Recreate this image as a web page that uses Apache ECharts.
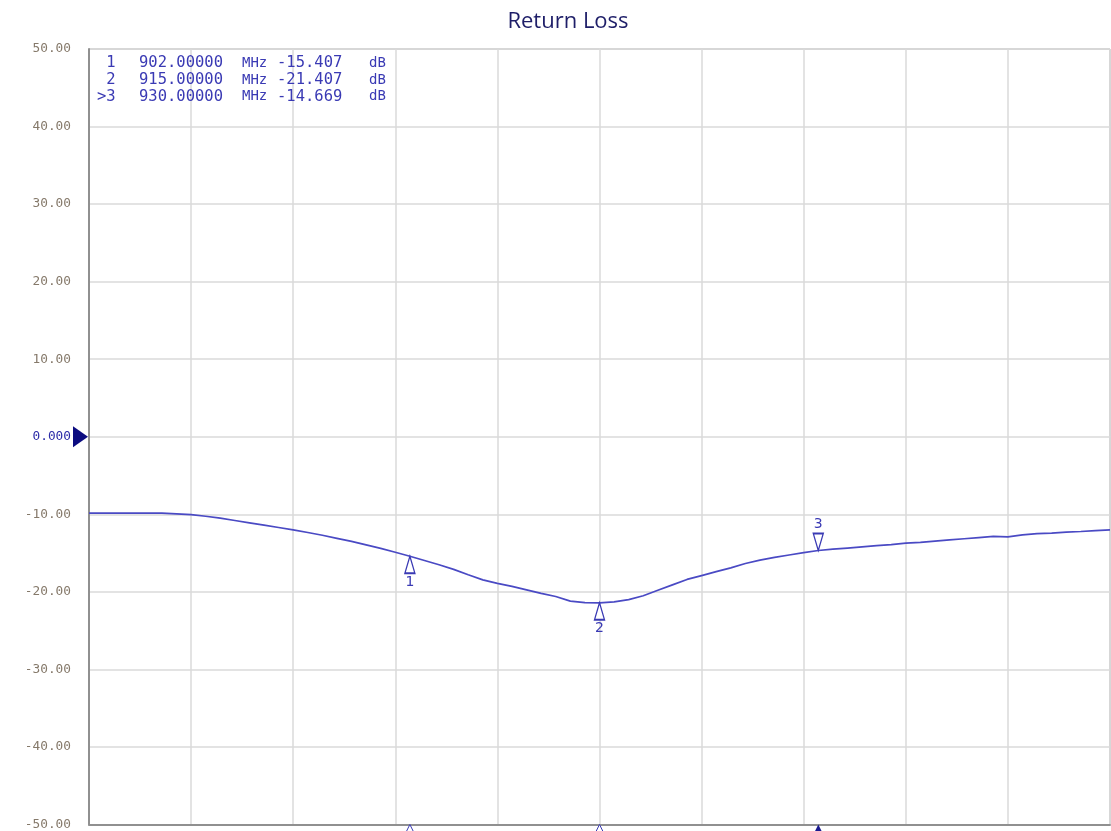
<!DOCTYPE html>
<html>
<head>
<meta charset="utf-8">
<script src="https://cdn.jsdelivr.net/npm/echarts@6/dist/echarts.min.js"></script>
<style>html,body{margin:0;padding:0;background:#fff;}#c{width:1111px;height:831px;}</style>
</head>
<body>
<div id="c"></div>
<script>
// Frequency (MHz) and return loss (dB)
const freqs = [880,881,882,883,884,885,886,887,888,889,890,891,892,893,894,895,896,897,898,899,
  900,901,902,903,904,905,906,907,908,909,910,911,912,913,914,915,916,917,918,919,
  920,921,922,923,924,925,926,927,928,929,930,931,932,933,934,935,936,937,938,939,
  940,941,942,943,944,945,946,947,948,949,950];
const returnLoss = [-9.85,-9.85,-9.85,-9.85,-9.85,-9.86,-9.95,-10.05,-10.25,-10.5,
  -10.8,-11.1,-11.4,-11.7,-12.0,-12.35,-12.7,-13.1,-13.5,-13.95,
  -14.4,-14.9,-15.41,-15.95,-16.5,-17.1,-17.8,-18.45,-18.9,-19.3,
  -19.75,-20.2,-20.6,-21.2,-21.4,-21.41,-21.3,-21.0,-20.5,-19.8,
  -19.1,-18.4,-17.9,-17.4,-16.9,-16.35,-15.9,-15.55,-15.25,-14.95,
  -14.67,-14.5,-14.35,-14.2,-14.05,-13.9,-13.72,-13.62,-13.45,-13.3,
  -13.15,-13.0,-12.85,-12.9,-12.65,-12.5,-12.42,-12.3,-12.22,-12.1,-12.0];
// Markers
const markerIds = ['1','2','3'];
const markerFreq = [902, 915, 930];
const markerVal = [-15.407, -21.407, -14.669];
const activeMarker = 2;
// Axes
const xMin = 880, xMax = 950, xStep = 7;
const yMin = -50, yMax = 50, yStep = 10;
const refLevel = 0;

const blue = '#3a3ab4';
const lineColor = '#4a4ac4';

const upTri = 'path://M5,0 L10,17 L0,17 Z';
const downTri = 'path://M0,0 L10,0 L5,17 Z';

const markPts = [];
markerFreq.forEach((f, i) => {
  const active = i === activeMarker;
  markPts.push({
    coord: [f, markerVal[i]],
    symbol: active ? downTri : upTri,
    symbolSize: [10, 17],
    symbolOffset: [0, active ? -8.5 : 8.5],
    itemStyle: {color: '#fff', borderColor: blue, borderWidth: 1.5},
    label: {show: true, formatter: markerIds[i], position: active ? 'top' : 'bottom', distance: 1,
      color: blue, fontFamily: 'DejaVu Sans', fontSize: 14}
  });
  markPts.push({
    coord: [f, yMin],
    symbol: 'triangle',
    symbolSize: [8, 8],
    symbolOffset: [0, 4],
    itemStyle: active ? {color: '#1a1a90'} : {color: '#fff', borderColor: blue, borderWidth: 1},
    label: {show: false}
  });
});
markPts.push({
  coord: [xMin, refLevel],
  symbol: 'triangle',
  symbolRotate: -90,
  symbolSize: [21, 15],
  symbolOffset: [-8.5, 0],
  itemStyle: {color: '#0c0c80'},
  label: {show: false}
});

const rows = markerIds.map((id, i) => {
  const prefix = i === activeMarker ? '>' + id : ' ' + id;
  return '{n|' + prefix + '}{f|' + markerFreq[i].toFixed(5) + '}{u|MHz}{v|' + markerVal[i].toFixed(3) + '}{d|dB}';
}).join('\n');

const monoBase = {fontFamily: 'DejaVu Sans Mono', fontSize: 15.5, fill: blue, lineHeight: 16.6};

const chart = echarts.init(document.getElementById('c'));
chart.setOption({
  animation: false,
  backgroundColor: '#fff',
  title: {
    text: 'Return Loss', left: 563, top: 6, textAlign: 'center',
    textStyle: {fontFamily: 'Open Sans', fontSize: 22, fontWeight: 'normal', color: '#1e1e68'}
  },
  grid: {left: 89, right: 1, top: 49, bottom: 5, show: true, borderColor: '#a0a0a0', borderWidth: 1},
  xAxis: {
    type: 'value', min: xMin, max: xMax, interval: xStep,
    axisLabel: {show: false}, axisTick: {show: false},
    axisLine: {show: true, onZero: false, lineStyle: {color: '#909090', width: 2}},
    splitLine: {show: true, lineStyle: {color: '#dadada', width: 1.5}}
  },
  yAxis: {
    type: 'value', min: yMin, max: yMax, interval: yStep,
    axisTick: {show: false},
    axisLine: {show: true, onZero: false, lineStyle: {color: '#909090', width: 2}},
    splitLine: {show: true, lineStyle: {color: '#dadada', width: 1.5}},
    axisLabel: {
      margin: 18, fontFamily: 'DejaVu Sans Mono', fontSize: 12.8,
      formatter: v => v === refLevel ? '{r|0.000}' : v.toFixed(2),
      color: '#85796a',
      rich: {r: {color: '#2c2ca8', fontFamily: 'DejaVu Sans Mono', fontSize: 12.8}}
    }
  },
  graphic: [{
    type: 'text', left: 97, top: 55, z: 10,
    style: {
      text: rows, ...monoBase,
      rich: {
        n: {...monoBase, width: 42},
        f: {...monoBase, width: 103},
        u: {...monoBase, width: 35, fontSize: 14},
        v: {...monoBase, width: 92},
        d: {...monoBase, fontSize: 14}
      }
    }
  }],
  series: [{
    type: 'line',
    data: freqs.map((f, i) => [f, returnLoss[i]]),
    showSymbol: false,
    lineStyle: {color: lineColor, width: 1.7},
    markPoint: {data: markPts, z: 5}
  }]
});
</script>
</body>
</html>
